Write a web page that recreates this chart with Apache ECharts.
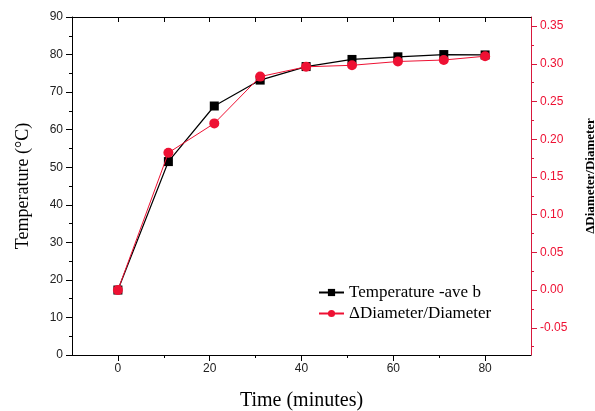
<!DOCTYPE html>
<html>
<head>
<meta charset="utf-8">
<script src="https://cdn.jsdelivr.net/npm/echarts@6/dist/echarts.min.js"></script>
<style>
html,body{margin:0;padding:0;background:#fff;}
#chart{width:595px;height:411px;}
</style>
</head>
<body>
<div id="chart"></div>
<script>
// ---- data ----
const times = [0, 11, 21, 31, 41, 51, 61, 71, 80];
const temperature = [17.3, 51.5, 66.3, 73.2, 76.8, 78.7, 79.4, 80.0, 79.9];
const diameterRatio = [0.000, 0.182, 0.221, 0.283, 0.296, 0.298, 0.303, 0.305, 0.310];
const xMajorTicks = [0, 20, 40, 60, 80];
const xMinorTicks = [10, 30, 50, 70];
const xTopTicks = [0, 10, 20, 30, 40, 50, 60, 70, 80];
const rightMajorTicks = [-0.05, 0.00, 0.05, 0.10, 0.15, 0.20, 0.25, 0.30, 0.35];
const rightMinorTicks = [-0.075, -0.025, 0.025, 0.075, 0.125, 0.175, 0.225, 0.275, 0.325];
const seriesNames = ['Temperature -ave b', '\u0394Diameter/Diameter'];

const RED = '#ee1133';
const RED_AXIS = '#d8183c';
const sans = 'Liberation Sans';
const serif = 'Liberation Serif';

const xMin = -10, xMax = 90;
const rMin = -0.086, rMax = 0.362;

const chart = echarts.init(document.getElementById('chart'));
const pair = (xs, ys) => xs.map((x, i) => [x, ys[i]]);

chart.setOption({
  animation: false,
  backgroundColor: '#fff',
  grid: { left: 72, right: 64, top: 17, bottom: 56, containLabel: false, outerBoundsMode: 'none' },
  legend: {
    orient: 'vertical',
    left: 313, top: 279,
    itemWidth: 25, itemHeight: 9, itemGap: 4,
    textStyle: { fontFamily: serif, fontSize: 17, color: '#000' },
    data: seriesNames
  },
  xAxis: [
    {
      type: 'value', position: 'bottom', min: xMin, max: xMax,
      name: 'Time (minutes)', nameLocation: 'middle', nameGap: 36,
      nameTextStyle: { fontFamily: serif, fontSize: 20, color: '#000' },
      axisLine: { show: true, onZero: false, lineStyle: { color: '#000', width: 1 } },
      axisTick: { show: true, customValues: xMajorTicks, length: 6, lineStyle: { color: '#000' } },
      axisLabel: { customValues: xMajorTicks, fontFamily: sans, fontSize: 12, color: '#222', margin: 8 },
      splitLine: { show: false }
    },
    {
      type: 'value', position: 'bottom', min: xMin, max: xMax,
      axisLine: { show: false, onZero: false },
      axisTick: { show: true, customValues: xMinorTicks, length: 3, lineStyle: { color: '#000' } },
      axisLabel: { show: false },
      splitLine: { show: false }
    },
    {
      type: 'value', position: 'top', min: xMin, max: xMax,
      axisLine: { show: true, onZero: false, lineStyle: { color: '#000', width: 1 } },
      axisTick: { show: true, inside: true, customValues: xTopTicks, length: 5, lineStyle: { color: '#000' } },
      axisLabel: { show: false },
      splitLine: { show: false }
    }
  ],
  yAxis: [
    {
      type: 'value', position: 'left', min: 0, max: 90, interval: 10,
      name: 'Temperature (\u00B0C)', nameLocation: 'middle', nameGap: 40,
      nameTextStyle: { fontFamily: serif, fontSize: 18, color: '#000' },
      axisLine: { show: true, onZero: false, lineStyle: { color: '#000', width: 1 } },
      axisTick: { show: true, length: 6, lineStyle: { color: '#000' } },
      minorTick: { show: true, splitNumber: 2, length: 3, lineStyle: { color: '#000' } },
      axisLabel: { fontFamily: sans, fontSize: 12, color: '#222', margin: 9 },
      splitLine: { show: false }
    },
    {
      type: 'value', position: 'right', min: rMin, max: rMax,
      name: '\u0394Diameter/Diameter', nameLocation: 'middle', nameGap: 53, nameRotate: 90,
      nameTextStyle: { fontFamily: serif, fontSize: 13, fontWeight: 'bold', color: '#000', padding: [0, 0, 0, 20] },
      axisLine: { show: true, onZero: false, lineStyle: { color: RED_AXIS, width: 1 } },
      axisTick: { show: true, customValues: rightMajorTicks, length: 6, lineStyle: { color: RED_AXIS } },
      axisLabel: {
        customValues: rightMajorTicks, fontFamily: sans, fontSize: 12, color: RED, margin: 9,
        formatter: v => Number(v).toFixed(2)
      },
      splitLine: { show: false }
    },
    {
      type: 'value', position: 'right', min: rMin, max: rMax,
      axisLine: { show: false, onZero: false },
      axisTick: { show: true, customValues: rightMinorTicks, length: 3, lineStyle: { color: RED_AXIS } },
      axisLabel: { show: false },
      splitLine: { show: false }
    }
  ],
  series: [
    {
      name: seriesNames[0], type: 'line', xAxisIndex: 0, yAxisIndex: 0,
      data: pair(times, temperature),
      symbol: 'rect', symbolSize: 9,
      lineStyle: { color: '#000', width: 1.2 },
      itemStyle: { color: '#000' },
      z: 2
    },
    {
      name: seriesNames[1], type: 'line', xAxisIndex: 0, yAxisIndex: 1,
      data: pair(times, diameterRatio),
      symbol: 'circle', symbolSize: 10,
      lineStyle: { color: RED, width: 1 },
      itemStyle: { color: RED },
      z: 3
    }
  ]
});
</script>
</body>
</html>
